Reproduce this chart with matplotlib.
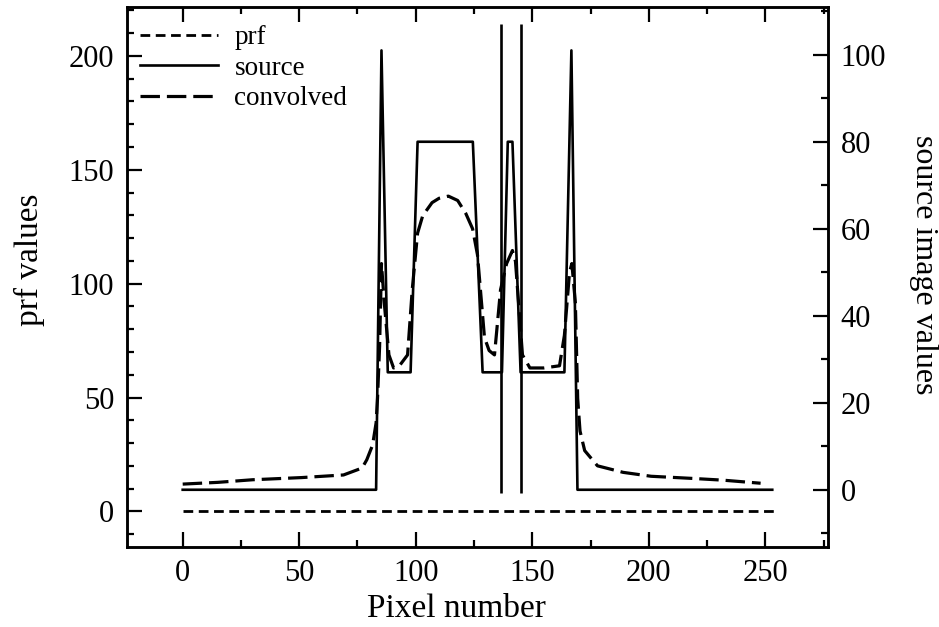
import matplotlib
matplotlib.use("Agg")
import matplotlib.pyplot as plt
from matplotlib.ticker import MultipleLocator

plt.rcParams["font.family"] = ["Liberation Serif", "DejaVu Serif"]
plt.rcParams["lines.scale_dashes"] = False

# prf (left axis)
prf_x = [0, 255]
prf_y = [0, 0]

# source image (right axis), read at the corners of the trace
source_x = [0, 83, 85.3, 88, 97.8, 100.8, 124.5, 128.7, 137, 139.5, 141.5, 145,
            163.8, 166.8, 169.4, 253]
source_y = [0, 0, 101, 27, 27, 80, 80, 27, 27, 80, 80, 27,
            27, 101, 0, 0]

# two narrow spikes in the source
spike_x = [136.8, 145.2]
spike_lo = -0.8
spike_hi = 107

# convolved image (right axis)
conv_x = [0, 15, 30, 51, 69, 77, 79, 81.5, 83, 83.6, 84.5, 85.3,
          86.5, 88.5, 90.5, 93, 96.5, 98.5, 100.8, 103, 107, 110, 114, 118,
          121.5, 124.4, 126.5, 129.5, 131.5, 133.8, 136.4, 139, 141.5, 142.8,
          145.8, 149, 155, 161.7, 163.8, 166, 167, 168.5, 169.5, 170.5, 172.5,
          178, 189, 201, 219, 232, 248]
conv_y = [1.3, 1.7, 2.3, 2.8, 3.4, 5.0, 6.9, 10.3, 15.4, 21, 33, 52,
          43, 31, 28, 28.5, 31, 46, 59, 63, 66, 67, 67.5, 66.5,
          63.5, 60, 54, 35, 32, 31, 46, 52, 55, 52.5,
          31, 28, 28, 28.5, 35.5, 50, 52, 43, 21, 13.5, 9,
          5.5, 4.0, 3.1, 2.6, 2.2, 1.5]

fig = plt.figure(figsize=(9.39, 6.27), dpi=100)
ax = fig.add_axes([0.135, 0.128, 0.747, 0.861])
ax2 = ax.twinx()

l_prf, = ax.plot(prf_x, prf_y, color="black", lw=2.0, dashes=(7, 4), label="prf")
l_src, = ax2.plot(source_x, source_y, color="black", lw=1.9, label="source")
ax2.vlines(spike_x, spike_lo, spike_hi, color="black", lw=1.9)
l_conv, = ax2.plot(conv_x, conv_y, color="black", lw=2.3, dashes=(14, 5), label="convolved")

ax.set_xlim(-24, 277)
ax.set_ylim(-15.5, 221.5)
ax2.set_ylim(-13.1, 111)

ax.xaxis.set_major_locator(MultipleLocator(50))
ax.xaxis.set_minor_locator(MultipleLocator(25))
ax.yaxis.set_major_locator(MultipleLocator(50))
ax.yaxis.set_minor_locator(MultipleLocator(10))
ax2.yaxis.set_major_locator(MultipleLocator(20))
ax2.yaxis.set_minor_locator(MultipleLocator(10))

ax.tick_params(which="both", direction="in", top=True, right=False, width=1.6, labelsize=22, pad=9)
ax.tick_params(which="major", length=11)
ax.tick_params(which="minor", length=5)
ax2.tick_params(which="both", direction="in", width=1.6, labelsize=22, pad=9)
ax2.tick_params(which="major", length=11)
ax2.tick_params(which="minor", length=5)
for a in (ax, ax2):
    for s in a.spines.values():
        s.set_linewidth(1.8)

ax.set_xlabel("Pixel number", fontsize=24, va="center", ha="center")
ax.xaxis.set_label_coords(0.47, -0.115)
ax.set_ylabel("prf values", fontsize=24, va="center", ha="center")
ax.yaxis.set_label_coords(-0.138, 0.531)
ax2.set_ylabel("source image values", fontsize=23, rotation=270, va="center", ha="center")
ax2.yaxis.set_label_coords(1.136, 0.522)

ax.legend(handles=[l_prf, l_src, l_conv], loc="upper left", frameon=False,
          fontsize=19.5, handlelength=2.9, handletextpad=0.6, labelspacing=0.2,
          borderaxespad=0.0, bbox_to_anchor=(0.003, 0.986))

fig.savefig("out.png", dpi=100)
